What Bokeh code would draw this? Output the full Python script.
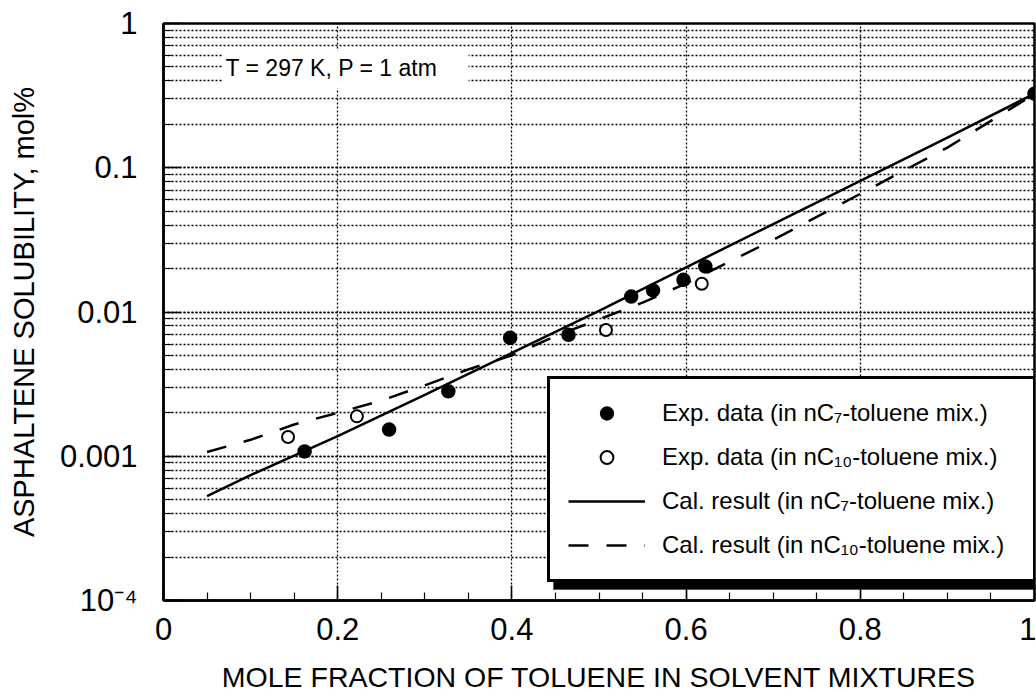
from bokeh.plotting import figure
from bokeh.models import (FixedTicker, Legend, LegendItem, Label, BoxAnnotation)
from bokeh.embed import file_html
from bokeh.resources import INLINE

# ---------------- data ----------------
exp_c7_x = [0.162, 0.259, 0.327, 0.398, 0.465, 0.537, 0.562, 0.597, 0.622, 1.0]
exp_c7_y = [0.00108, 0.00153, 0.00282, 0.00662, 0.00695, 0.0128, 0.0141, 0.0167, 0.0207, 0.326]

exp_c10_x = [0.143, 0.222, 0.508, 0.618]
exp_c10_y = [0.00136, 0.00189, 0.0075, 0.0157]

cal_c7_x = [0.05, 0.1, 0.2, 0.3, 0.4, 0.5, 0.6, 0.7, 0.8, 0.9, 1.0]
cal_c7_y = [0.00053, 0.00074, 0.00138, 0.00266, 0.0052, 0.0102, 0.0204, 0.0407, 0.081, 0.162, 0.326]

cal_c10_x = [0.05, 0.1, 0.15, 0.2, 0.25, 0.3, 0.35, 0.4, 0.45, 0.5, 0.55, 0.6, 0.7, 0.8, 0.9, 1.0]
cal_c10_y = [0.00107, 0.0013, 0.00166, 0.0020, 0.00243, 0.0031, 0.0040, 0.0050, 0.0068, 0.0089,
             0.0116, 0.0158, 0.0316, 0.066, 0.138, 0.324]

x_ticks = [0.0, 0.2, 0.4, 0.6, 0.8, 1.0]
x_tick_labels = ["0", "0.2", "0.4", "0.6", "0.8", "1"]
y_ticks = [0.0001, 0.001, 0.01, 0.1, 1.0]
y_tick_labels = ["10\u207b\u2074", "0.001", "0.01", "0.1", "1"]

legend_labels = [
    "Exp. data (in nC\u2087-toluene mix.)",
    "Exp. data (in nC\u2081\u2080-toluene mix.)",
    "Cal. result (in nC\u2087-toluene mix.)",
    "Cal. result (in nC\u2081\u2080-toluene mix.)",
]
annotation_text = "T = 297 K, P = 1 atm"
x_label = "MOLE FRACTION OF TOLUENE IN SOLVENT MIXTURES"
y_label = "ASPHALTENE SOLUBILITY, mol%"

FONT = "Liberation Sans"

# ---------------- figure ----------------
p = figure(width=1036, height=695, x_range=(0, 1), y_range=(1e-4, 1),
           y_axis_type="log", output_backend="svg", toolbar_location=None,
           min_border_left=163, min_border_right=2, min_border_top=23,
           min_border_bottom=95)
p.background_fill_color = "white"
p.border_fill_color = "white"
p.outline_line_color = "black"
p.outline_line_width = 2.5

# ticks
minor_x = [i * 0.05 for i in range(21)]
p.xaxis.ticker = FixedTicker(ticks=x_ticks, minor_ticks=minor_x)
p.xaxis.major_label_overrides = {t: l for t, l in zip(x_ticks, x_tick_labels)}
minor_y = [m * 10.0 ** e for e in range(-4, 0) for m in range(1, 10)]
p.yaxis.ticker = FixedTicker(ticks=y_ticks, minor_ticks=minor_y)
p.yaxis.major_label_overrides = {t: l for t, l in zip(y_ticks, y_tick_labels)}

for ax in (p.xaxis[0], p.yaxis[0]):
    ax.axis_line_width = 2.5
    ax.axis_line_color = "black"
    ax.major_tick_line_color = "black"
    ax.minor_tick_line_color = "black"
    ax.major_tick_line_width = 1.5
    ax.minor_tick_line_width = 1.2
    ax.major_tick_out = 0
    ax.minor_tick_out = 0
    ax.major_label_text_font = FONT
    ax.major_label_text_font_size = "31px"
    ax.major_label_text_color = "black"
    ax.axis_label_text_font = FONT
    ax.axis_label_text_font_style = "normal"
    ax.axis_label_text_color = "black"

p.xaxis.axis_label_text_font_size = "28.5px"
p.yaxis.axis_label_text_font_size = "29px"
p.xaxis.major_tick_in = 15
p.xaxis.minor_tick_in = 8
p.yaxis.major_tick_in = 17
p.yaxis.minor_tick_in = 8
p.xaxis.major_label_standoff = 17
p.yaxis.major_label_standoff = 26
p.xaxis.axis_label_standoff = 18
p.yaxis.axis_label_standoff = 17
p.xaxis.axis_label = x_label
p.yaxis.axis_label = y_label

# grids (dotted)
p.xgrid.grid_line_color = "black"
p.xgrid.grid_line_dash = "2 2"
p.xgrid.grid_line_width = 1.3
p.ygrid.grid_line_color = "black"
p.ygrid.grid_line_dash = "2 2"
p.ygrid.grid_line_width = 1.3
p.ygrid.minor_grid_line_color = "black"
p.ygrid.minor_grid_line_dash = "2 2"
p.ygrid.minor_grid_line_width = 1.3

# ---------------- glyphs ----------------
r_cal7 = p.line(cal_c7_x, cal_c7_y, line_color="black", line_width=2.5)
r_cal10 = p.line(cal_c10_x, cal_c10_y, line_color="black", line_width=2.5,
                 line_dash="20 18")
r_exp7 = p.scatter(exp_c7_x, exp_c7_y, marker="circle", size=13,
                   fill_color="black", line_color="black", line_width=1.5)
r_exp10 = p.scatter(exp_c10_x, exp_c10_y, marker="circle", size=12,
                    fill_color="white", line_color="black", line_width=2)

# ---------------- annotation ----------------
p.add_layout(BoxAnnotation(left=59, right=305, bottom=512, top=550,
                           left_units="screen", right_units="screen",
                           bottom_units="screen", top_units="screen",
                           fill_color="white", fill_alpha=1.0, line_color=None,
                           level="annotation"))
p.add_layout(Label(x=62, y=533, x_units="screen", y_units="screen",
                   text=annotation_text, text_font=FONT, text_font_size="23px",
                   text_baseline="middle", text_color="black"))

# legend shadow (thick bottom / right edge)
p.add_layout(BoxAnnotation(left=390, right=871, bottom=11, top=215,
                           left_units="screen", right_units="screen",
                           bottom_units="screen", top_units="screen",
                           fill_color="black", fill_alpha=1.0,
                           line_color="black", line_width=1,
                           level="annotation"))

legend = Legend(items=[
    LegendItem(label=legend_labels[0], renderers=[r_exp7]),
    LegendItem(label=legend_labels[1], renderers=[r_exp10]),
    LegendItem(label=legend_labels[2], renderers=[r_cal7]),
    LegendItem(label=legend_labels[3], renderers=[r_cal10]),
], location=(384, 18))
legend.label_text_font = FONT
legend.label_text_font_size = "24px"
legend.label_text_color = "black"
legend.border_line_color = "black"
legend.border_line_width = 3
legend.border_line_alpha = 1.0
legend.background_fill_color = "white"
legend.background_fill_alpha = 1.0
legend.glyph_width = 77
legend.glyph_height = 32
legend.label_height = 32
legend.label_width = 353
legend.label_standoff = 17
legend.spacing = 12
legend.padding = 18
legend.margin = 0
p.add_layout(legend)

open("out.html", "w").write(file_html(p, INLINE))
